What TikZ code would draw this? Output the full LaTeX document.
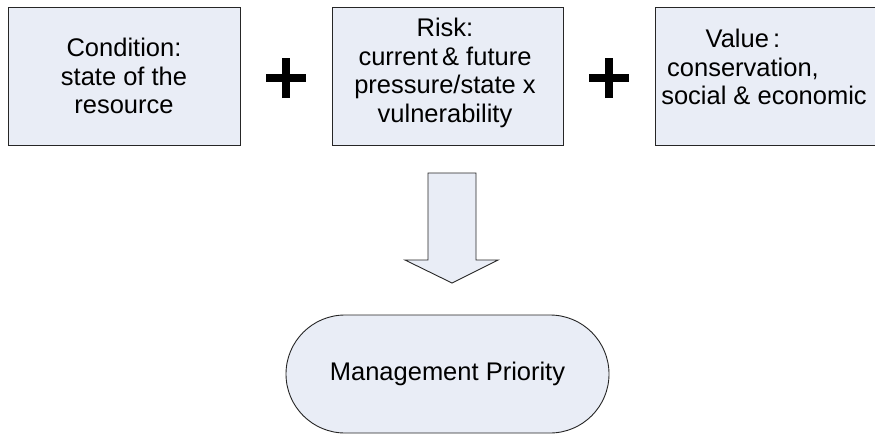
\documentclass[tikz,border=0pt]{standalone}
\usepackage{fontspec}
\setmainfont{Liberation Sans}
\begin{document}
\begin{tikzpicture}[x=1pt,y=-1pt,
  panel/.style={draw=black!85, line width=1pt, fill=boxfill},
  boxtext/.style={align=center, font=\fontsize{25.5}{28.5}\selectfont, inner sep=0pt},
  plussign/.style={line width=7.5pt, draw=black}]
\definecolor{boxfill}{RGB}{233,237,246}
\useasboundingbox (0,0) rectangle (875,434);
\clip (0,0) rectangle (875,434);

% three input boxes
\node[panel, minimum width=232pt, minimum height=138pt, inner sep=0pt] (cond) at (124,76) {};
\node[boxtext] (condtext) at (cond.center) {Condition:\\state of the\\resource};

\node[panel, minimum width=231pt, minimum height=138pt, inner sep=0pt] (risk) at (447.5,76) {};
\node[boxtext] (risktext) at (445,73) {Risk:\\current\,\& future\\pressure/state x\\vulnerability};

\node[panel, minimum width=232pt, minimum height=138pt, inner sep=0pt] (val) at (771,76) {};
\node[boxtext] (valtext) at (743,67) {Value\,:\\conservation,\\\hspace*{42pt}social \& economic};

% plus signs between the boxes
\coordinate (p1) at (286,78);
\coordinate (p2) at (609,78);
\foreach \p in {p1,p2}{
  \draw[plussign] ([xshift=-20pt]\p) -- ([xshift=20pt]\p);
  \draw[plussign] ([yshift=-20pt]\p) -- ([yshift=20pt]\p);
}

% block arrow down to the result
\coordinate (atop) at (452,173);
\coordinate (atip) at (452,283);
\draw[panel, line width=0.9pt]
  ([xshift=-24pt]atop) -- ([xshift=24pt]atop) -- (476,260) -- (498,260)
  -- (atip) -- (405,260) -- (428,260) -- cycle;

% result
\node[panel, line width=0.9pt, rounded corners=59pt, minimum width=323pt, minimum height=118pt, inner sep=0pt] (prio) at (447.5,374) {};
\node[boxtext] (priotext) at (prio.center) {Management Priority};
\end{tikzpicture}
\end{document}
